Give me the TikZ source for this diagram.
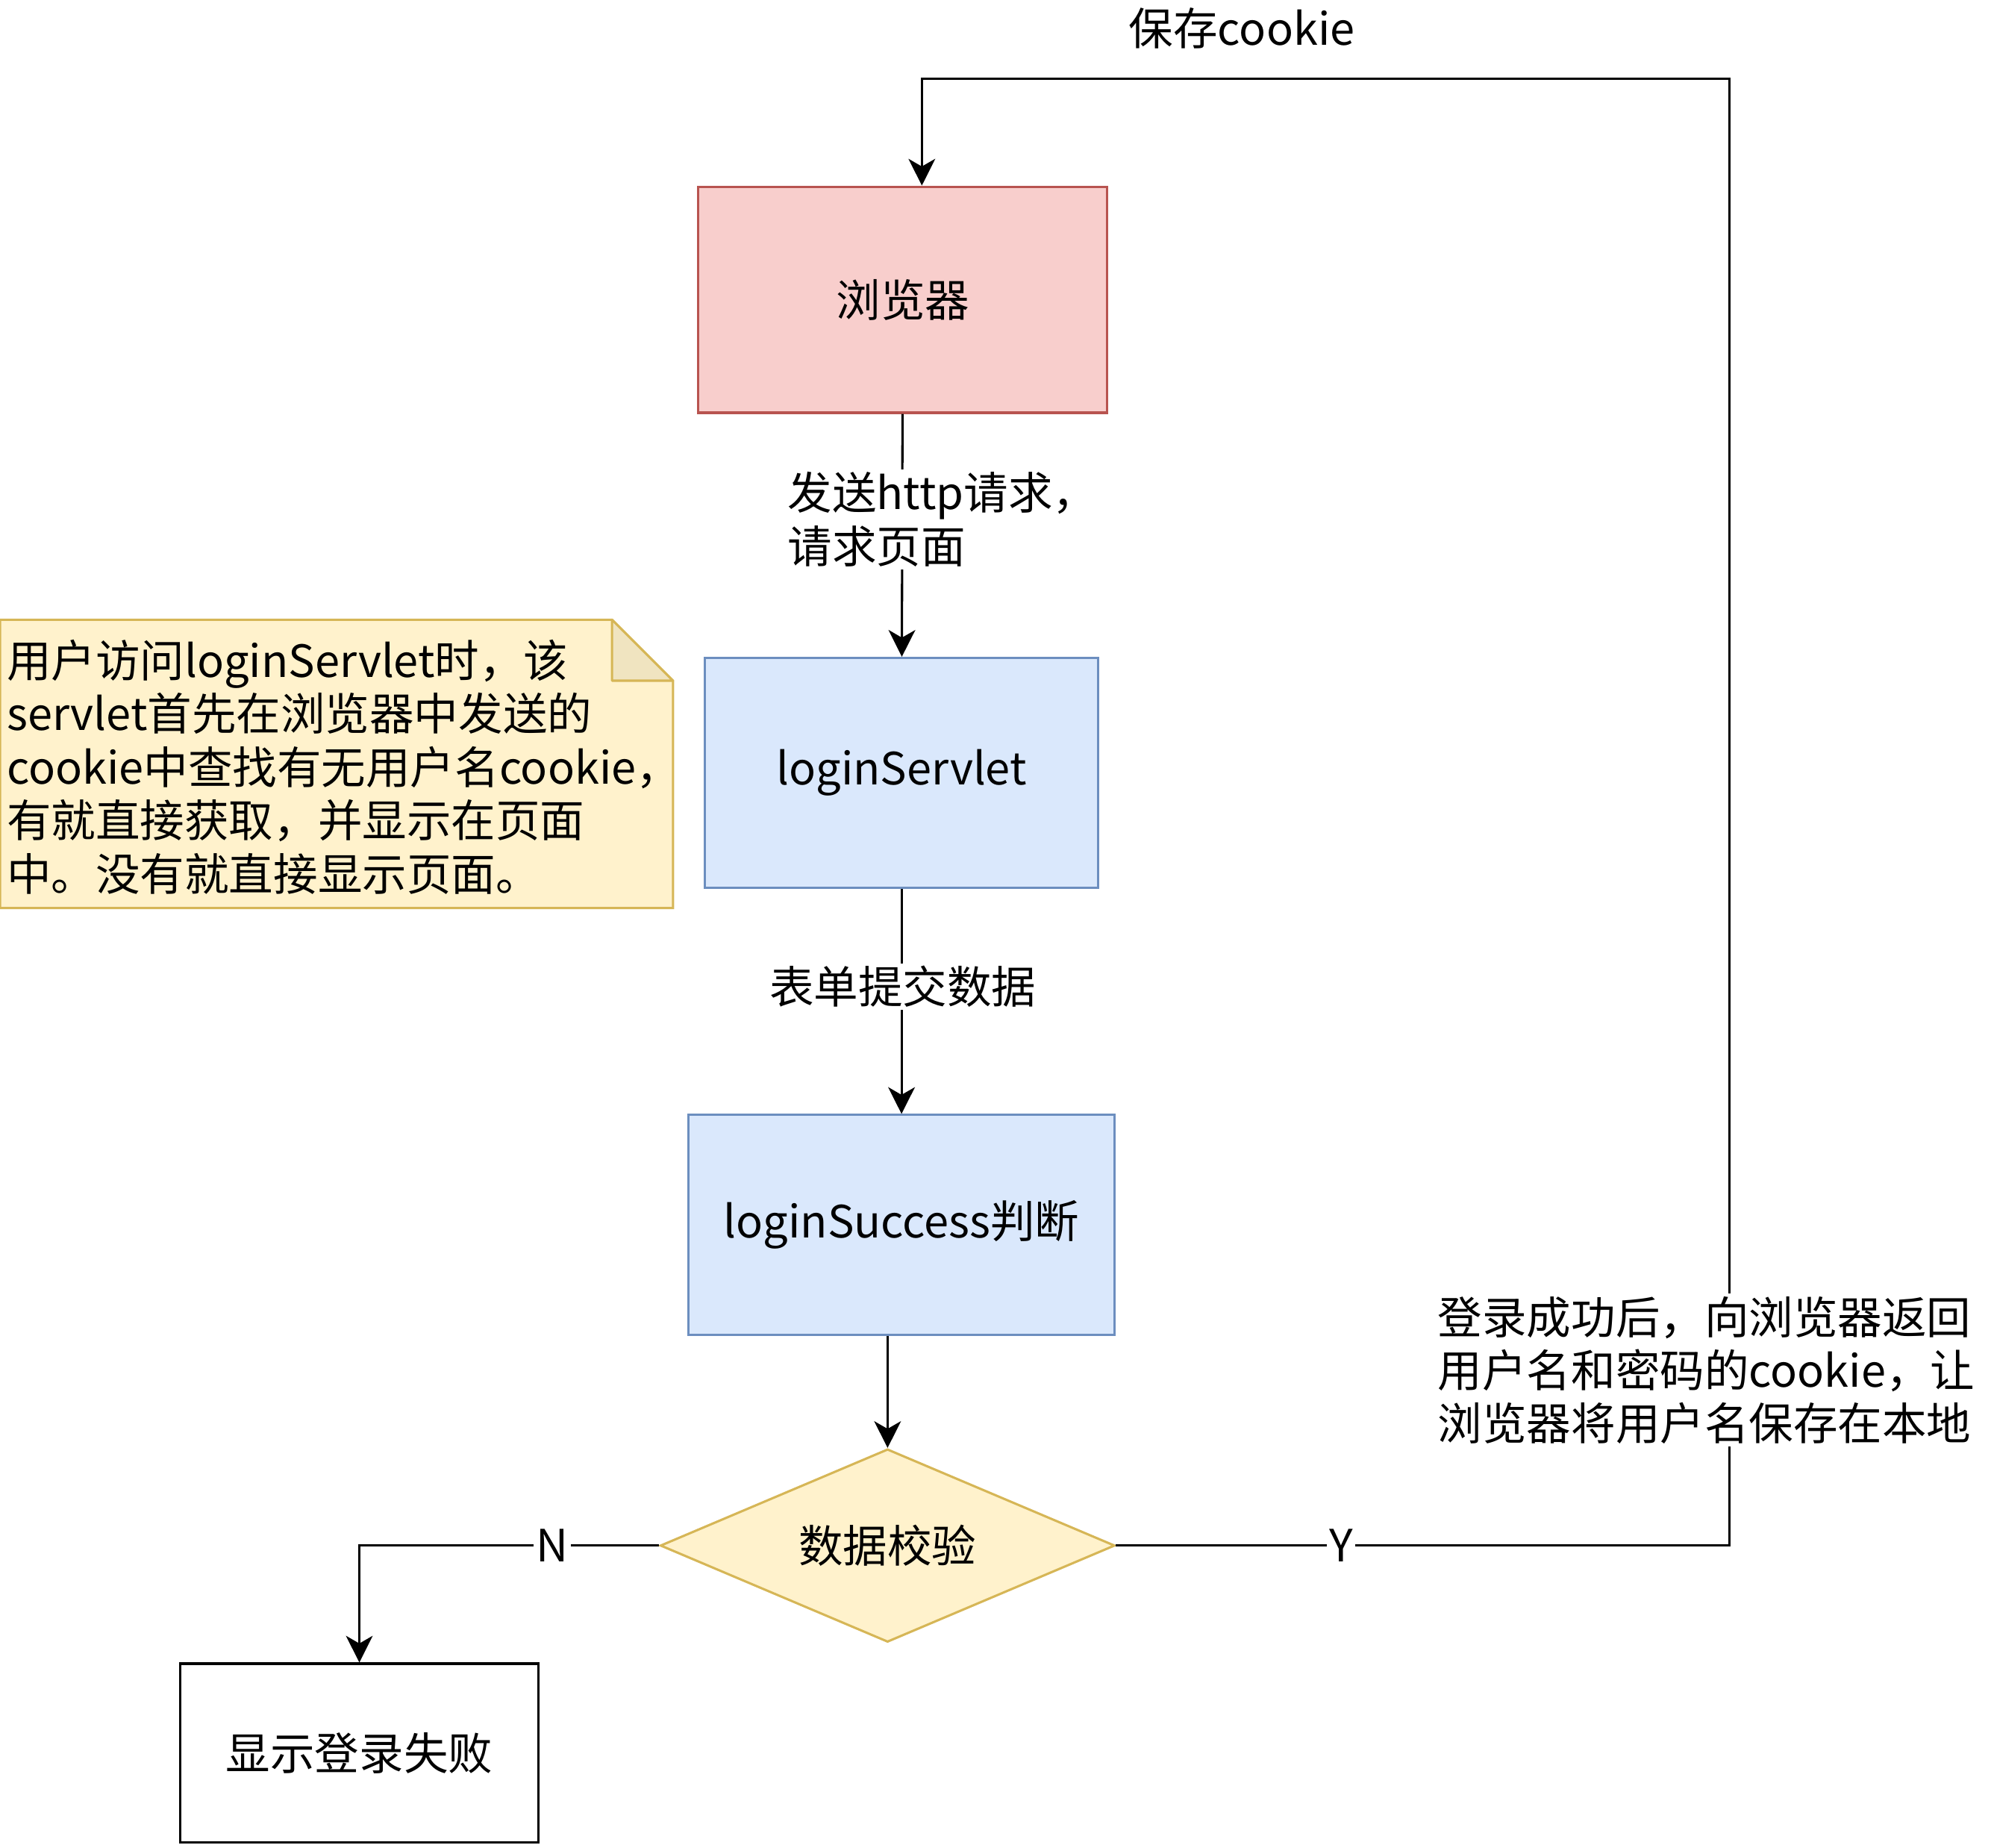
\documentclass[tikz,border=0pt]{standalone}
\usepackage{fontspec}
\setmainfont{Noto Sans CJK SC}
\usetikzlibrary{shapes.geometric, arrows.meta}
\definecolor{redfill}{HTML}{F8CECC}
\definecolor{redline}{HTML}{B85450}
\definecolor{bluefill}{HTML}{DAE8FC}
\definecolor{blueline}{HTML}{6C8EBF}
\definecolor{yelfill}{HTML}{FFF2CC}
\definecolor{yelline}{HTML}{D6B656}
\definecolor{yelfold}{HTML}{F0E4C0}
\tikzset{
  box/.style={draw, line width=0.9pt, minimum width=#1, inner sep=0pt},
  flow/.style={line width=0.9pt, -{Stealth[length=10.5pt, width=10.5pt, inset=3pt]}},
  lbl/.style={fill=white, inner sep=1pt, align=left}
}
\begin{document}
\begin{tikzpicture}[x=0.5pt, y=-0.5pt, font=\fontsize{17.5}{21}\selectfont]
	\useasboundingbox (0,0) rectangle (1568,1455);
	% boxes
	\node[box=161pt, minimum height=89pt, fill=redfill, draw=redline] (browser) at (711,236) {浏览器};
	\node[box=155pt, minimum height=90.5pt, fill=bluefill, draw=blueline] (servlet) at (710,608.5) {loginServlet};
	\node[box=168pt, minimum height=86.5pt, fill=bluefill, draw=blueline] (success) at (710,964.5) {loginSuccess判断};
	\node[diamond, aspect=2.35, line width=0.9pt, inner sep=0pt, minimum width=179pt, minimum height=76pt, fill=yelfill, draw=yelline] (check) at (699,1217) {数据校验};
	\node[box=141pt, minimum height=70.5pt] (fail) at (283,1380.5) {显示登录失败};
	% note with folded corner
	\draw[line width=0.9pt, draw=yelline, fill=yelfill] (0,488) -- (482,488) -- (530,536) -- (530,715) -- (0,715) -- cycle;
	\draw[line width=0.9pt, draw=yelline, fill=yelfold, line join=round] (482,488) -- (482,536) -- (530,536) -- cycle;
	\node[anchor=west, align=left, inner sep=0pt] (note) at (5,604) {用户访问loginServlet时，该\\servlet首先在浏览器中发送的\\cookie中查找有无用户名cookie，\\有就直接获取，并显示在页面\\中。没有就直接显示页面。};
	% connectors
	\coordinate (retR) at (1362,1217);
	\coordinate (retT) at (1362,62);
	\coordinate (retL) at (726,62);
	\draw[flow] (browser) -- (servlet);
	\draw[flow] (servlet) -- (success);
	\draw[flow] (success.south -| check.north) -- (check.north);
	\draw[flow] (check.west) -| (fail.north);
	\draw[flow] (check.east) -- (retR) -- (retT) -- (retL) -- (retL |- browser.north);
	% labels
	\node[lbl, anchor=west] (sendlbl) at (618,409) {发送http请求，\\请求页面};
	\node[lbl] (formlbl) at (711,777) {表单提交数据};
	\node[lbl] (ylbl) at (1056,1217) {Y};
	\node[lbl] (nlbl) at (435,1217) {N};
	\node[lbl, anchor=west] (oklbl) at (1130,1079) {登录成功后，向浏览器返回\\用户名和密码的cookie，让\\浏览器将用户名保存在本地};
	\node[inner sep=1pt] (savelbl) at (978,22) {保存cookie};
\end{tikzpicture}
\end{document}
